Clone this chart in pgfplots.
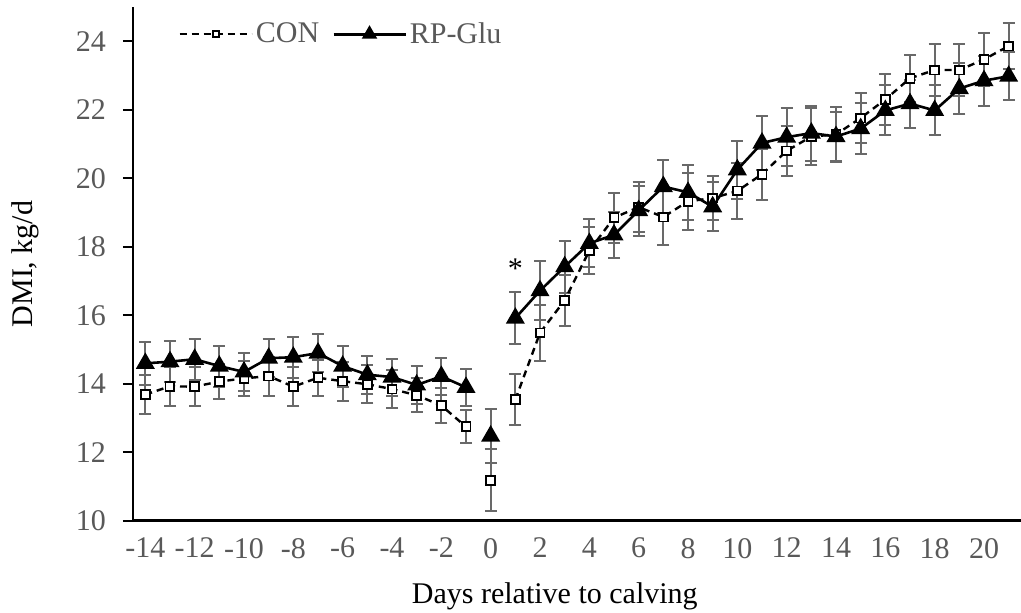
\documentclass[border=0pt]{standalone}
\usepackage{fontspec}
\setmainfont{Liberation Serif}
\usepackage{pgfplots}
\pgfplotsset{compat=1.18}
\usepackage{pgfplotstable}
\usetikzlibrary{calc}
\definecolor{tickgray}{RGB}{89,89,89}
\definecolor{errgray}{RGB}{105,105,105}
\pgfplotstableread{
d con conerr rp rperr
-14 13.69 0.58 14.60 0.62
-13 13.93 0.57 14.65 0.60
-12 13.92 0.56 14.72 0.60
-11 14.07 0.50 14.52 0.60
-10 14.16 0.50 14.35 0.55
-9 14.23 0.57 14.75 0.56
-8 13.92 0.56 14.78 0.60
-7 14.18 0.52 14.90 0.55
-6 14.08 0.57 14.52 0.60
-5 13.99 0.55 14.27 0.55
-4 13.85 0.56 14.20 0.54
-3 13.67 0.50 13.97 0.55
-2 13.37 0.50 14.22 0.54
-1 12.75 0.48 13.90 0.55
-0.5 nan nan nan nan
0 11.19 0.90 12.48 0.80
0.5 nan nan nan nan
1 13.54 0.74 15.92 0.75
2 15.49 0.82 16.72 0.86
3 16.44 0.75 17.42 0.76
4 17.89 0.69 18.10 0.70
5 18.85 0.73 18.35 0.68
6 19.16 0.73 19.06 0.73
7 18.87 0.83 19.76 0.78
8 19.33 0.83 19.59 0.80
9 19.42 0.65 19.17 0.72
10 19.63 0.82 20.25 0.85
11 20.12 0.75 21.03 0.78
12 20.80 0.73 21.20 0.85
13 21.22 0.83 21.32 0.80
14 21.28 0.80 21.22 0.72
15 21.76 0.73 21.45 0.75
16 22.30 0.75 21.98 0.73
17 22.92 0.68 22.18 0.70
18 23.16 0.76 21.98 0.73
19 23.16 0.76 22.62 0.75
20 23.47 0.77 22.85 0.73
21 23.86 0.66 22.98 0.70
}\dmi
\begin{document}
\begin{tikzpicture}
\begin{axis}[
  width=444pt, height=257pt, scale only axis,
  xmin=-14.5, xmax=21.5, ymin=10, ymax=25,
  unbounded coords=jump,
  axis x line*=bottom, axis y line*=left,
  x axis line style={line width=1.5pt},
  y axis line style={line width=1pt},
  xtick={-14,-12,...,20},
  xticklabels={-14,-12,-10,-8,-6,-4,-2,0,2,4,6,8,10,12,14,16,18,20},
  ytick={10,12,...,24},
  xtick style={draw=none},
  ytick style={line width=1pt, black},
  tick align=outside, major tick length=5pt,
  /pgf/number format/assume math mode=true,
  tick label style={font=\fontsize{15}{18}\selectfont, text=tickgray},
  yticklabel style={xshift=-5pt},
  xlabel={Days relative to calving},
  ylabel={DMI, kg/d},
  label style={font=\fontsize{15}{18}\selectfont, text=black},
  xlabel style={at={(axis description cs:0.475,-0.146)}, anchor=center},
  ylabel style={at={(axis description cs:-0.1216,0.5)}, anchor=center},
  legend style={at={(axis description cs:0.044,0.947)}, anchor=west, draw=none, fill=none,
    font=\fontsize{15}{18}\selectfont, text=tickgray, nodes={inner sep=1.5pt},
    /tikz/every even column/.append style={column sep=5pt}},
  legend columns=-1,
  legend image code/.code={\draw[mark repeat=2,mark phase=2,#1] plot coordinates {(0pt,0pt) (18pt,0pt) (36pt,0pt)};},
  clip=false,
]
\addplot[draw=none, mark=none, forget plot,
  error bars/.cd, y dir=both, y explicit,
  error bar style={draw=errgray, solid, line width=1pt},
  error mark options={rotate=90, mark size=3pt, draw=errgray, solid, line width=1pt}]
  table[x=d, y=con, y error=conerr]{\dmi};
\addplot[draw=none, mark=none, forget plot,
  error bars/.cd, y dir=both, y explicit,
  error bar style={draw=errgray, solid, line width=1pt},
  error mark options={rotate=90, mark size=3pt, draw=errgray, solid, line width=1pt}]
  table[x=d, y=rp, y error=rperr]{\dmi};
\addplot[black, line width=1.2pt, dash pattern=on 3.5pt off 2.5pt,
  mark=square*, mark size=2.2pt, mark options={fill=white, draw=black, solid, line width=0.9pt},
  legend image post style={mark size=1.5pt}]
  table[x=d, y=con]{\dmi};
\addlegendentry{CON}
\addplot[black, line width=1.3pt, mark=triangle*, mark size=4.2pt, mark options={solid, fill=black},
  legend image post style={mark size=3.2pt}]
  table[x=d, y=rp]{\dmi};
\addlegendentry{RP-Glu}
\node[font=\fontsize{15}{18}\selectfont] at (axis cs:1,17.35) {*};
\coordinate (sw) at (rel axis cs:0,0);
\coordinate (ne) at (rel axis cs:1,1);
\end{axis}
\pgfresetboundingbox
\path[use as bounding box] ($(sw)+(-66.5pt,-46pt)$) rectangle ($(ne)+(0pt,3.5pt)$);
\end{tikzpicture}
\end{document}
